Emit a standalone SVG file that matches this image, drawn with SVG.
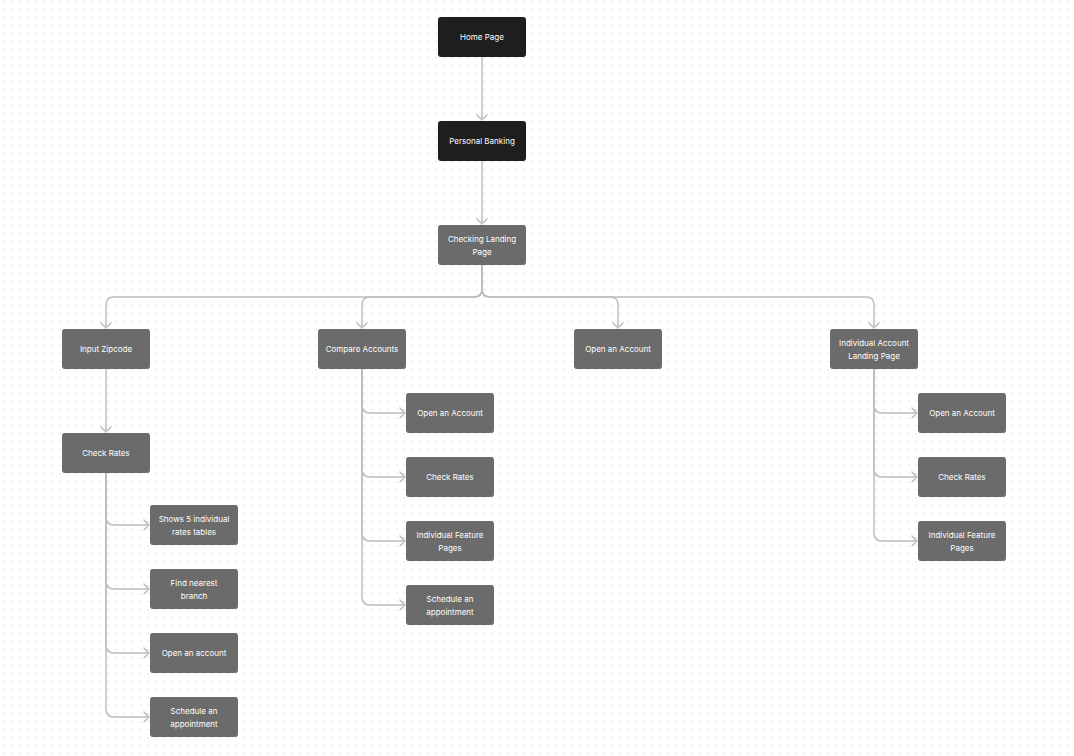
<svg xmlns="http://www.w3.org/2000/svg" width="1074" height="756" viewBox="0 0 1074 756">
<defs>
<pattern id="dots" x="0" y="0" width="8" height="8" patternUnits="userSpaceOnUse">
<circle cx="4.5" cy="1.5" r="0.75" fill="#d9d9d9"/>
</pattern>
<marker id="arr" markerWidth="12" markerHeight="12" refX="0" refY="0" viewBox="-7 -6 8 12" orient="auto" markerUnits="userSpaceOnUse">
<path d="M-5,-5 L0,0 L-5,5" fill="none" stroke="#bdbdbd" stroke-width="1.5" stroke-linecap="round" stroke-linejoin="round"/>
</marker>
<style>
.n rect{fill:#6b6b6b;}
.d rect{fill:#1e1e1e;}
text{font-family:Inter,"Liberation Sans",sans-serif;font-size:8px;fill:#ffffff;text-anchor:middle;}
.c path{fill:none;stroke:#bdbdbd;stroke-width:1.5;marker-end:url(#arr);}
</style>
</defs>
<rect width="1074" height="756" fill="#ffffff"/>
<rect width="1074" height="756" fill="url(#dots)"/>
<g class="c" id="connectors">
<path d="M482 57 V120"/>
<path d="M482 161 V224"/>
<path d="M482 265 V289 Q482 297 474 297 H114 Q106 297 106 305 V328"/>
<path d="M482 265 V289 Q482 297 474 297 H370 Q362 297 362 305 V328"/>
<path d="M482 265 V289 Q482 297 490 297 H610 Q618 297 618 305 V328"/>
<path d="M482 265 V289 Q482 297 490 297 H866 Q874 297 874 305 V328"/>
<path d="M106 369 V432"/>
<path d="M106 473 V517 Q106 525 114 525 H149"/>
<path d="M106 473 V581 Q106 589 114 589 H149"/>
<path d="M106 473 V645 Q106 653 114 653 H149"/>
<path d="M106 473 V709 Q106 717 114 717 H149"/>
<path d="M362 369 V405 Q362 413 370 413 H405"/>
<path d="M362 369 V469 Q362 477 370 477 H405"/>
<path d="M362 369 V533 Q362 541 370 541 H405"/>
<path d="M362 369 V597 Q362 605 370 605 H405"/>
<path d="M874 369 V405 Q874 413 882 413 H917"/>
<path d="M874 369 V469 Q874 477 882 477 H917"/>
<path d="M874 369 V533 Q874 541 882 541 H917"/>
</g>
<g id="home" class="d"><rect x="438" y="17" width="88" height="40" rx="3"/><text x="482" y="40">Home Page</text></g>
<g id="personal" class="d"><rect x="438" y="121" width="88" height="40" rx="3"/><text x="482" y="144">Personal Banking</text></g>
<g id="checking" class="n"><rect x="438" y="225" width="88" height="40" rx="3"/><text x="482" y="242">Checking Landing</text><text x="482" y="255">Page</text></g>
<g id="zipcode" class="n"><rect x="62" y="329" width="88" height="40" rx="3"/><text x="106" y="352">Input Zipcode</text></g>
<g id="compare" class="n"><rect x="318" y="329" width="88" height="40" rx="3"/><text x="362" y="352">Compare Accounts</text></g>
<g id="open" class="n"><rect x="574" y="329" width="88" height="40" rx="3"/><text x="618" y="352">Open an Account</text></g>
<g id="individual" class="n"><rect x="830" y="329" width="88" height="40" rx="3"/><text x="874" y="346">Individual Account</text><text x="874" y="359">Landing Page</text></g>
<g id="checkrates" class="n"><rect x="62" y="433" width="88" height="40" rx="3"/><text x="106" y="456">Check Rates</text></g>
<g id="shows5" class="n"><rect x="150" y="505" width="88" height="40" rx="3"/><text x="194" y="522">Shows 5 individual</text><text x="194" y="535">rates tables</text></g>
<g id="nearest" class="n"><rect x="150" y="569" width="88" height="40" rx="3"/><text x="194" y="586">Find nearest</text><text x="194" y="599">branch</text></g>
<g id="openacct1" class="n"><rect x="150" y="633" width="88" height="40" rx="3"/><text x="194" y="656">Open an account</text></g>
<g id="sched1" class="n"><rect x="150" y="697" width="88" height="40" rx="3"/><text x="194" y="714">Schedule an</text><text x="194" y="727">appointment</text></g>
<g id="c-open" class="n"><rect x="406" y="393" width="88" height="40" rx="3"/><text x="450" y="416">Open an Account</text></g>
<g id="c-rates" class="n"><rect x="406" y="457" width="88" height="40" rx="3"/><text x="450" y="480">Check Rates</text></g>
<g id="c-feature" class="n"><rect x="406" y="521" width="88" height="40" rx="3"/><text x="450" y="538">Individual Feature</text><text x="450" y="551">Pages</text></g>
<g id="c-sched" class="n"><rect x="406" y="585" width="88" height="40" rx="3"/><text x="450" y="602">Schedule an</text><text x="450" y="615">appointment</text></g>
<g id="i-open" class="n"><rect x="918" y="393" width="88" height="40" rx="3"/><text x="962" y="416">Open an Account</text></g>
<g id="i-rates" class="n"><rect x="918" y="457" width="88" height="40" rx="3"/><text x="962" y="480">Check Rates</text></g>
<g id="i-feature" class="n"><rect x="918" y="521" width="88" height="40" rx="3"/><text x="962" y="538">Individual Feature</text><text x="962" y="551">Pages</text></g>
</svg>
